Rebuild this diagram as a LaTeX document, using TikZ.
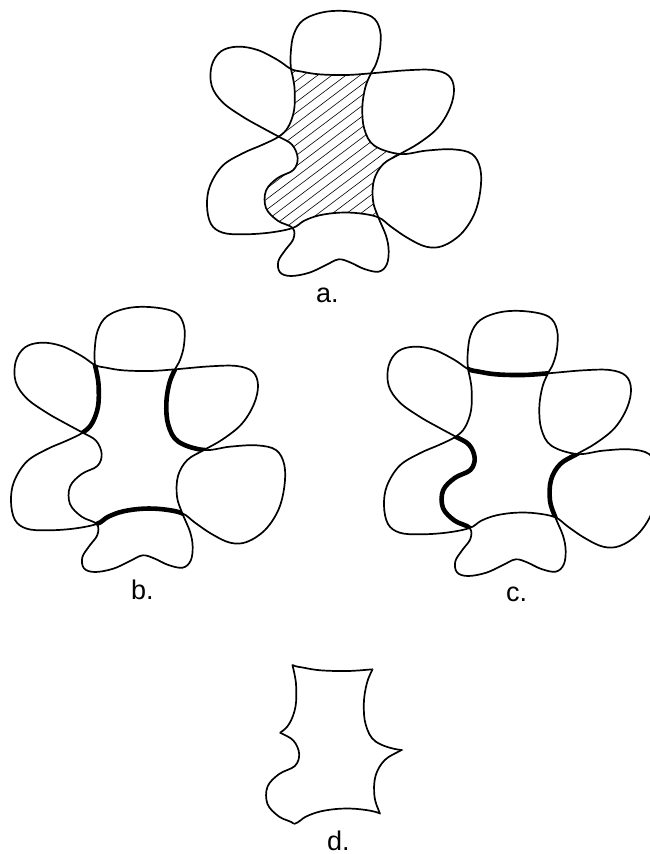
\documentclass[tikz,border=0pt]{standalone}
\usepackage{fontspec}
\setmainfont{Liberation Sans}
\begin{document}
\begin{tikzpicture}[x=1pt,y=-1pt,
  outline/.style={line width=1.7pt, line join=round},
  boldedge/.style={line width=4.6pt, line cap=round},
  hatchline/.style={line width=0.6pt},
  lbl/.style={font=\fontsize{27}{30}\selectfont, inner sep=0pt, anchor=base west},
  % trefoil carrying the top, lower-right and lower-left lobes
  curveone/.style={insert path={plot[smooth cycle, tension=0.6] coordinates {
    (285,195) (284,150) (293,92) (322,48) (385,24) (460,22) (527,38) (552,78)
    (552,135) (540,180) (525,208) (508,250) (499,310) (505,375) (535,425)
    (612,450) (690,440) (770,436) (828,450) (853,495) (853,560) (835,630)
    (795,690) (740,726) (690,728) (635,702) (585,668) (547,640) (490,628)
    (430,626) (370,634) (325,650) (290,672) (220,686) (140,691) (80,686)
    (45,660) (33,605) (42,545) (80,485) (140,448) (200,422) (248,398)
    (276,370) (294,320) (296,260) (291,222)}}},
  % trefoil carrying the upper-left, upper-right and bottom lobes
  curvetwo/.style={insert path={plot[smooth cycle, tension=0.6] coordinates {
    (285,195) (245,168) (185,138) (125,128) (75,142) (47,185) (47,245)
    (80,295) (140,338) (200,372) (248,398) (288,422) (305,462) (292,498)
    (245,522) (210,560) (210,612) (245,650) (290,672) (292,705) (268,738)
    (247,772) (252,805) (285,816) (340,806) (390,783) (428,766) (462,775)
    (505,795) (548,803) (572,782) (578,740) (570,695) (547,640) (531,590)
    (534,528) (562,480) (612,450) (668,418) (725,372) (762,312) (774,255)
    (758,215) (710,198) (630,199) (525,208) (450,213) (370,211) (318,203)}}}]
\useasboundingbox (0,0) rectangle (650,854);

% a. the common part of both trefoils, hatched
\begin{scope}[shift={(196,4)}, scale=1/3]
  \begin{scope}
    \clip[curveone];
    \clip[curvetwo];
    \foreach \c in {120,152,...,1180}
      \draw[hatchline] (150,\c) -- (720,\c-430);
  \end{scope}
  \draw[outline, curveone];
  \draw[outline, curvetwo];
\end{scope}
\node[lbl] (labela) at (316,302) {a.};

% b. edges contributed by the first trefoil in bold
\begin{scope}[shift={(0,300)}, scale=1/3]
  \begin{scope}
    \clip[curvetwo];
    \draw[boldedge, curveone];
  \end{scope}
  \draw[outline, curveone];
  \draw[outline, curvetwo];
\end{scope}
\node[lbl] (labelb) at (131,599) {b.};

% c. edges contributed by the second trefoil in bold
\begin{scope}[shift={(373,304)}, scale=1/3]
  \begin{scope}
    \clip[curveone];
    \draw[boldedge, curvetwo];
  \end{scope}
  \draw[outline, curveone];
  \draw[outline, curvetwo];
\end{scope}
\node[lbl] (labelc) at (506,601) {c.};

% d. outline of the common part alone
\begin{scope}[shift={(197.5,600)}, scale=1/3]
  \begin{scope}
    \clip[curveone];
    \draw[outline, curvetwo];
  \end{scope}
  \begin{scope}
    \clip[curvetwo];
    \draw[outline, curveone];
  \end{scope}
\end{scope}
\node[lbl] (labeld) at (327,850) {d.};
\end{tikzpicture}
\end{document}
